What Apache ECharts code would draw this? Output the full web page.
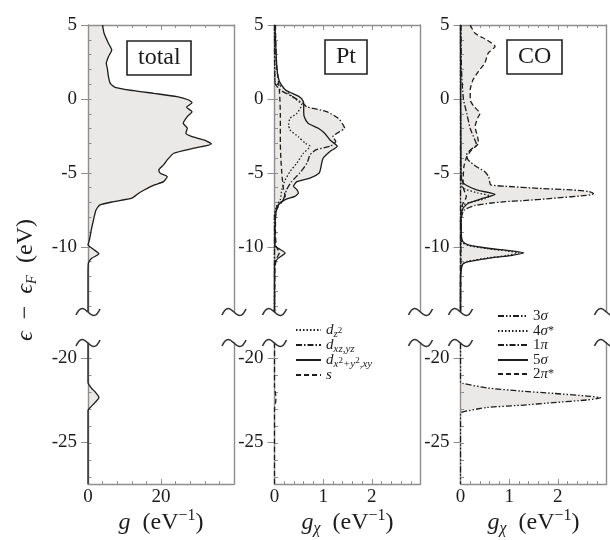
<!DOCTYPE html>
<html><head><meta charset="utf-8">
<script src="https://cdn.jsdelivr.net/npm/echarts@6/dist/echarts.min.js"></script>
<style>html,body{margin:0;padding:0;background:#fff}#c{width:610px;height:540px}</style>
</head><body><div id="c"></div>
<script>
// ---------- data: [energy (eV), g] ----------
const totalUp = [[5,4.0],[4.44,4.4],[3.76,5.6],[3.31,6.5],[2.86,5.6],[2.41,5.0],[2.07,5.3],[1.51,5.6],[1.06,6.1],[0.79,7.4],[0.56,12.5],[0.38,18.0],[0.16,24.4],[-0.07,27.6],[-0.25,28.5],[-0.56,27.0],[-0.86,28.5],[-1.19,27.2],[-1.64,26.1],[-1.98,27.2],[-2.32,26.8],[-2.55,28.5],[-2.77,31.7],[-3.04,33.8],[-3.33,29.0],[-3.67,23.5],[-4.12,21.7],[-4.46,20.7],[-4.8,19.4],[-5.02,19.8],[-5.25,21.7],[-5.59,20.7],[-5.81,18.2],[-6.15,15.4],[-6.37,13.9],[-6.71,12.0],[-6.94,7.0],[-7.16,3.3],[-7.5,2.2],[-8.18,1.5],[-8.85,0.9],[-9.53,0.4],[-9.86,0.0],[-10.16,1.5],[-10.47,3.0],[-10.77,1.0],[-11.1,0.1],[-12,0],[-14.4,0]];
const totalLo = [[-19.1,0],[-21.45,0],[-21.8,1.0],[-22.0,1.9],[-22.35,3.0],[-22.65,1.9],[-22.9,0.8],[-23.1,0],[-27.5,0]];

const ptDz2Up = [[5,0],[1.2,0.01],[0.76,0.18],[0.2,0.35],[-0.4,0.56],[-0.97,0.46],[-1.3,0.32],[-1.75,0.29],[-2.1,0.32],[-2.55,0.49],[-2.99,0.63],[-3.2,0.73],[-3.68,0.59],[-4.33,0.46],[-4.9,0.32],[-5.47,0.22],[-6.13,0.15],[-6.8,0.12],[-7.27,0.04],[-7.93,0],[-14.4,0]];
const ptDxzUp = [[5,0],[1.1,0.01],[0.6,0.12],[0.2,0.35],[-0.3,0.59],[-0.52,0.66],[-0.86,1.07],[-1.3,1.31],[-1.75,1.41],[-1.98,1.44],[-2.2,1.34],[-2.55,1.2],[-2.88,1.26],[-3.2,1.14],[-3.43,0.86],[-3.77,0.73],[-4.33,0.67],[-5.0,0.52],[-5.59,0.35],[-6.13,0.25],[-6.8,0.18],[-7.27,0.05],[-7.93,0],[-14.4,0]];
const ptDx2Up = [[5,0.01],[2.1,0.05],[1.2,0.1],[0.63,0.22],[0.19,0.49],[0,0.56],[-0.29,0.6],[-0.74,0.6],[-1.19,0.61],[-1.64,0.69],[-1.98,0.9],[-2.32,1.03],[-2.77,1.14],[-3.2,1.29],[-3.55,1.14],[-4.0,1.0],[-4.33,0.97],[-4.67,0.95],[-5.0,0.92],[-5.35,0.73],[-5.59,0.46],[-5.9,0.39],[-6.13,0.46],[-6.36,0.49],[-6.58,0.42],[-6.8,0.22],[-7.16,0.08],[-7.7,0.03],[-9.08,0.01],[-9.9,0.01],[-10.1,0.08],[-10.42,0.22],[-10.76,0.08],[-11.1,0],[-14.4,0]];
const ptSUp = [[5,0.02],[3,0.03],[2,0.05],[1.2,0.08],[0.6,0.1],[0,0.11],[-1,0.12],[-2,0.12],[-3,0.12],[-4,0.13],[-5,0.15],[-6,0.18],[-6.6,0.22],[-7,0.14],[-7.5,0.04],[-8,0.02],[-9,0.02],[-10,0.04],[-10.4,0.1],[-10.8,0.04],[-11.5,0.01],[-14.4,0]];
const ptSLo = [[-19.1,0],[-21.7,0],[-22.1,0.02],[-22.4,0.03],[-22.7,0.02],[-23.0,0],[-27.5,0]];

const co3sUp = [[5,0],[-14.4,0]];
const co3sLo = [[-19.1,0],[-21.45,0],[-21.51,0.05],[-21.77,0.54],[-21.96,1.23],[-22.1,1.91],[-22.26,2.6],[-22.36,2.88],[-22.49,2.6],[-22.65,1.91],[-22.81,1.23],[-22.94,0.54],[-23.2,0.05],[-23.3,0],[-27.5,0]];
const co4sUp = [[5,0],[-5.8,0.01],[-6.1,0.1],[-6.35,0.35],[-6.55,0.6],[-6.75,0.5],[-6.95,0.25],[-7.2,0.05],[-9.5,0.01],[-9.7,0.04],[-9.9,0.15],[-10.12,0.55],[-10.27,0.95],[-10.4,1.2],[-10.58,0.95],[-10.75,0.55],[-10.98,0.15],[-11.2,0.03],[-12,0],[-14.4,0]];
const co1pUp = [[5,0.01],[2,0.02],[0,0.06],[-1,0.13],[-2,0.2],[-2.8,0.3],[-3.1,0.33],[-3.4,0.22],[-3.8,0.12],[-4.13,0.16],[-4.58,0.33],[-4.92,0.5],[-5.26,0.58],[-5.6,0.6],[-5.81,0.62],[-5.9,0.92],[-6.04,1.6],[-6.15,2.29],[-6.26,2.64],[-6.4,2.73],[-6.49,2.67],[-6.72,1.88],[-6.88,1.26],[-6.94,0.92],[-7.05,0.6],[-7.2,0.3],[-7.5,0.08],[-8,0.02],[-14.4,0]];
const co5sUp = [[5,0],[-5,0.01],[-5.6,0.04],[-5.8,0.1],[-6.15,0.33],[-6.45,0.71],[-6.7,0.47],[-7.05,0.16],[-7.4,0.05],[-8,0.01],[-9.3,0.02],[-9.64,0.05],[-9.86,0.16],[-10.09,0.57],[-10.25,0.99],[-10.4,1.3],[-10.61,0.99],[-10.77,0.57],[-11.0,0.16],[-11.2,0.04],[-12,0],[-14.4,0]];
const co2pUp = [[5,0.2],[4.44,0.3],[3.99,0.54],[3.55,0.71],[3.1,0.57],[2.43,0.5],[1.87,0.37],[1.31,0.26],[0.63,0.2],[-0.07,0.2],[-0.52,0.28],[-0.97,0.4],[-1.31,0.35],[-1.87,0.3],[-2.55,0.35],[-2.99,0.37],[-3.44,0.23],[-3.9,0.13],[-4.57,0.07],[-5.92,0.05],[-6.6,0.12],[-7.27,0.02],[-8,0],[-14.4,0]];

// ---------- ticks ----------
const UP_MAJOR = [-10, -5, 0, 5];
const UP_MINOR = [-14,-13,-12,-11,-10,-9,-8,-7,-6,-5,-4,-3,-2,-1,0,1,2,3,4,5];
const LO_MAJOR = [-25, -20];
const LO_MINOR = [-27,-26,-25,-24,-23,-22,-21,-20];
const UP_RANGE = [-14.4, 5];
const LO_RANGE = [-27.5, -19.1];
const X_MAX = [40, 3, 3];
const X_STEP = [20, 1, 1];
const PANEL_TITLES = ['total', 'Pt', 'CO'];

// ---------- styles / layout ----------
const FONT = 'Liberation Serif';
const INK = '#1c1c1c', AXC = '#8e8e8e', FILL = '#ebe9e8';
const PANEL_LEFT = [88, 274.5, 460.5];
const PANEL_W = 146;
const UP_TOP = 25, UP_H = 287;
const LO_TOP = 343, LO_H = 142.8;
const SMOOTH = 0.2;

const DOT = [1.5, 2], DASHDOT = [6, 2, 1.5, 2], DASHDOTDOT = [6, 2, 1.5, 2, 1.5, 2], DASH = [5, 3];

const NUMRICH = {n: {fontFamily: FONT, fontSize: 19, color: INK}};
const AXRICH = {
  i: {fontFamily: FONT, fontSize: 24, fontStyle: 'italic', lineHeight: 32, color: INK},
  r: {fontFamily: FONT, fontSize: 24, lineHeight: 32, color: INK},
  sup: {fontFamily: FONT, fontSize: 16, lineHeight: 16, padding: [1, 0, 15, 0], color: INK},
  sub: {fontFamily: FONT, fontSize: 16, fontStyle: 'italic', lineHeight: 16, padding: [14, 0, 2, 0], color: INK}
};
const LEGRICH = {
  m: {fontFamily: FONT, fontSize: 15, fontStyle: 'italic', lineHeight: 22, color: INK},
  r: {fontFamily: FONT, fontSize: 15, lineHeight: 22, color: INK},
  sb: {fontFamily: FONT, fontSize: 11, fontStyle: 'italic', lineHeight: 11, padding: [10, 0, 1, 0], color: INK},
  sbn: {fontFamily: FONT, fontSize: 9, lineHeight: 9, padding: [7, 0, 6, 0], color: INK},
  sp: {fontFamily: FONT, fontSize: 12, lineHeight: 12, padding: [5, 0, 5, 0], color: INK}
};
const LEG_TEXT = {
  dz2: '{m|d}{sb|z}{sbn|2}',
  dxz: '{m|d}{sb|xz,yz}',
  dx2: '{m|d}{sb|x}{sbn|2}{sb|+y}{sbn|2}{sb|,xy}',
  s: '{m|s}',
  s3: '{r|3}{m|σ}',
  s4: '{r|4}{m|σ}{sp|*}',
  p1: '{r|1}{m|π}',
  s5: '{r|5}{m|σ}',
  p2: '{r|2}{m|π}{sp|*}'
};
// legend sample rows: [name, left, centre y, sample width]
const LEG_ROWS = [
  ['dz2', 295, 333, 25], ['dxz', 295, 348, 25], ['dx2', 295, 363, 25], ['s', 295, 378, 25],
  ['s3', 497, 319, 30], ['s4', 497, 334, 30], ['p1', 497, 348, 30], ['s5', 497, 363, 30], ['p2', 497, 377, 30]
];

const panels = [
  {xname: '{i|g}{r|\u2002(eV}{sup|−1}{r|)}',
   curves: [{name: 'total', dash: 'solid', up: totalUp, lo: totalLo}]},
  {xname: '{i|g}{sub|χ}{r|\u2002(eV}{sup|−1}{r|)}',
   curves: [{name: 'dz2', dash: DOT, up: ptDz2Up},
            {name: 'dxz', dash: DASHDOT, up: ptDxzUp},
            {name: 'dx2', dash: 'solid', up: ptDx2Up},
            {name: 's', dash: DASH, up: ptSUp, lo: ptSLo}]},
  {xname: '{i|g}{sub|χ}{r|\u2002(eV}{sup|−1}{r|)}',
   curves: [{name: 's3', dash: DASHDOTDOT, up: co3sUp, lo: co3sLo},
            {name: 's4', dash: DOT, up: co4sUp},
            {name: 'p1', dash: DASHDOT, up: co1pUp},
            {name: 's5', dash: 'solid', up: co5sUp},
            {name: 'p2', dash: DASH, up: co2pUp}]}
];

function fillRenderer(pts) {
  return function (params, api) {
    if (params.dataIndex !== 0) return null;
    const poly = pts.map(p => api.coord(p));
    poly.push(api.coord([0, pts[pts.length - 1][1]]));
    poly.push(api.coord([0, pts[0][1]]));
    return {type: 'polygon', shape: {points: poly}, style: {fill: FILL, stroke: null}};
  };
}

const option = {
  animation: false, backgroundColor: '#fff',
  textStyle: {fontFamily: FONT, color: INK},
  title: [], grid: [], xAxis: [], yAxis: [], series: [], legend: [], graphic: []
};
const axLine = {color: AXC, width: 1.4};
const tickLine = {color: AXC, width: 1};
const numLabel = v => '{n|' + v + '}';

panels.forEach((P, p) => {
  const L = PANEL_LEFT[p];
  const sections = [
    {key: 'up', top: UP_TOP, h: UP_H, range: UP_RANGE, major: UP_MAJOR, minor: UP_MINOR},
    {key: 'lo', top: LO_TOP, h: LO_H, range: LO_RANGE, major: LO_MAJOR, minor: LO_MINOR}
  ];
  sections.forEach(S => {
    const isUp = S.key === 'up';
    const gMain = option.grid.length;
    option.grid.push({left: L, top: S.top, width: PANEL_W, height: S.h, containLabel: false});
    const gOver = option.grid.length;
    option.grid.push({left: L, top: S.top, width: PANEL_W, height: S.h, containLabel: false});
    const xMain = option.xAxis.length;
    option.xAxis.push({
      gridIndex: gMain, type: 'value', position: isUp ? 'top' : 'bottom',
      min: 0, max: X_MAX[p], interval: X_STEP[p], z: 2,
      axisLine: {show: true, onZero: false, lineStyle: axLine},
      axisTick: {show: true, inside: true, length: 5, lineStyle: tickLine},
      minorTick: {show: true, splitNumber: 5, length: 3, lineStyle: tickLine},
      splitLine: {show: false}, minorSplitLine: {show: false},
      axisLabel: isUp ? {show: false} : {show: true, margin: 3, showMaxLabel: false, fontFamily: FONT, fontSize: 19, color: INK, formatter: numLabel, rich: NUMRICH},
      name: isUp ? '' : P.xname, nameLocation: 'middle', nameGap: 20,
      nameTextStyle: {fontFamily: FONT, rich: AXRICH}
    });
    option.xAxis.push({gridIndex: gOver, type: 'value', min: 0, max: X_MAX[p], show: false});
    const yMain = option.yAxis.length;
    option.yAxis.push({
      gridIndex: gMain, type: 'value', position: 'left', min: S.range[0], max: S.range[1], z: 2,
      axisLine: {show: true, onZero: false, lineStyle: axLine},
      axisTick: {show: true, inside: false, length: 7, customValues: S.major, lineStyle: tickLine},
      axisLabel: {show: true, customValues: S.major, margin: 11, fontFamily: FONT, fontSize: 19, color: INK, formatter: numLabel, rich: NUMRICH},
      splitLine: {show: false}
    });
    option.yAxis.push({
      gridIndex: gMain, type: 'value', position: 'right', min: S.range[0], max: S.range[1], z: 2,
      axisLine: {show: true, onZero: false, lineStyle: axLine},
      axisTick: {show: false}, axisLabel: {show: false}, splitLine: {show: false}
    });
    option.yAxis.push({
      gridIndex: gOver, type: 'value', position: 'left', min: S.range[0], max: S.range[1], z: 2,
      axisLine: {show: false, onZero: false},
      axisTick: {show: true, inside: true, length: 3.5, customValues: S.minor, lineStyle: tickLine},
      axisLabel: {show: false}, splitLine: {show: false}
    });
    P.curves.forEach(c => {
      const arr = c[S.key];
      if (!arr) return;
      const pts = arr.map(([e, g]) => [g, e]);
      option.series.push({type: 'custom', xAxisIndex: xMain, yAxisIndex: yMain, z: 1, silent: true,
        data: pts, renderItem: fillRenderer(pts)});
      option.series.push({type: 'line', name: c.name, xAxisIndex: xMain, yAxisIndex: yMain,
        data: pts, symbol: 'none', showSymbol: false, clip: false, z: 3, silent: true, smooth: SMOOTH,
        lineStyle: {color: INK, width: 1.3, type: c.dash}, itemStyle: {color: INK}});
    });
  });
});

// panel label boxes
const TITLE_POS = [[127, 41], [325, 40], [507, 40]];
PANEL_TITLES.forEach((t, i) => option.title.push({
  text: t, left: TITLE_POS[i][0], top: TITLE_POS[i][1], padding: [5, 11],
  borderColor: '#222', borderWidth: 1.6,
  textStyle: {fontFamily: FONT, fontSize: 24, lineHeight: 24, fontWeight: 'normal', color: INK}
}));

// legends: one component per row so the row spacing is exact
const LEG_ITEM_H = 30;
LEG_ROWS.forEach(([name, left, cy, w]) => option.legend.push({
  data: [name], orient: 'vertical', left: left, top: cy - LEG_ITEM_H / 2, padding: 0,
  itemWidth: w, itemHeight: LEG_ITEM_H, itemGap: 0, selectedMode: false,
  formatter: n => LEG_TEXT[n],
  textStyle: {fontFamily: FONT, fontSize: 15, color: INK, rich: LEGRICH},
  itemStyle: {opacity: 0}
}));

// y-axis title
option.graphic.push({
  type: 'text', x: 26, y: 280, rotation: Math.PI / 2, z: 10,
  style: {
    text: '{i|ϵ}{r|\u2002−\u2002}{i|ϵ}{sub|F}{r|\u2002(eV)}', align: 'center', verticalAlign: 'middle', fill: INK,
    rich: {
      i: {fontFamily: FONT, fontSize: 24, fontStyle: 'italic', lineHeight: 32, fill: INK},
      r: {fontFamily: FONT, fontSize: 24, lineHeight: 32, fill: INK},
      sub: {fontFamily: FONT, fontSize: 15, fontStyle: 'italic', lineHeight: 15, padding: [15, 0, 2, 0], fill: INK}
    }
  }
});

// axis break marks (tilde shaped)
PANEL_LEFT.forEach(L => [L, L + PANEL_W].forEach(x => [UP_TOP + UP_H, LO_TOP].forEach(y => {
  option.graphic.push({type: 'bezierCurve', x: x, y: y, z: 10, silent: true,
    shape: {x1: -12, y1: 3, cpx1: -3, cpy1: -17, cpx2: 3, cpy2: 17, x2: 12, y2: -3},
    style: {stroke: '#333', lineWidth: 1.6, fill: null}});
})));

const chart = echarts.init(document.getElementById('c'), null, {renderer: 'canvas'});
chart.setOption(option);
</script></body></html>
